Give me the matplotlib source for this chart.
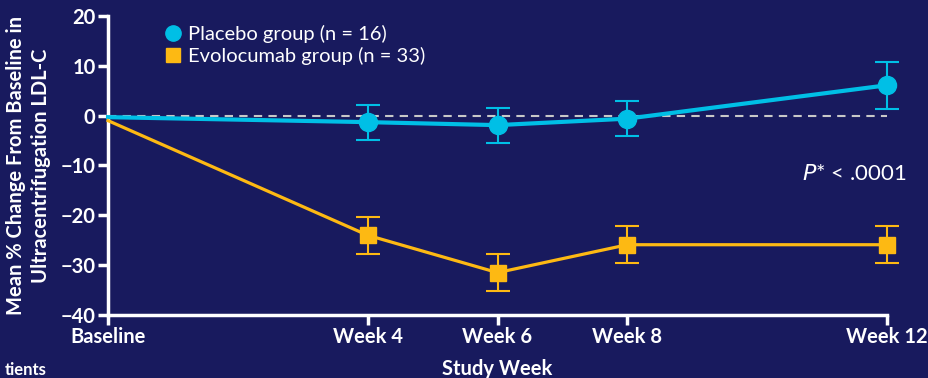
import matplotlib.pyplot as plt

# Data
weeks = [0, 4, 6, 8, 12]
week_labels = ["Baseline", "Week 4", "Week 6", "Week 8", "Week 12"]
placebo_mean = [-0.3, -1.3, -1.9, -0.6, 6.1]
placebo_err = [0, 3.5, 3.5, 3.5, 4.7]
evolo_mean = [-1.0, -24.0, -31.5, -25.9, -25.9]
evolo_err = [0, 3.7, 3.7, 3.7, 3.7]
y_ticks = [20, 10, 0, -10, -20, -30, -40]

BG = "#181a5e"
BLUE = "#00bfe6"
GOLD = "#fdb913"

plt.rcParams['font.family'] = ['Lato', 'DejaVu Sans']

fig = plt.figure(figsize=(9.29, 3.78), dpi=100, facecolor=BG)
ax = fig.add_axes([0.1163, 0.1667, 0.8385, 0.791], facecolor=BG)

# dashed zero reference line
ax.plot([0, 12], [0, 0], ls=(0, (4, 3)), color="#c8c8c8", lw=1.5, zorder=1)

# lines
ax.plot(weeks, placebo_mean, color=BLUE, lw=3, zorder=3, clip_on=False)
ax.plot(weeks, evolo_mean, color=GOLD, lw=2.3, zorder=3, clip_on=False)

# error bars + markers (baseline has no marker)
for mean, err, fmt, col, ms in [(placebo_mean, placebo_err, "o", BLUE, 13),
                                (evolo_mean, evolo_err, "s", GOLD, 12)]:
    eb = ax.errorbar(weeks[1:], mean[1:], yerr=err[1:], fmt=fmt, color=col,
                     ms=ms, capsize=8.5, elinewidth=1.5, capthick=1.5, zorder=4)
    for art in eb.get_children():
        art.set_clip_on(False)

# legend proxies
h1, = ax.plot([], [], "o", color=BLUE, ms=11)
h2, = ax.plot([], [], "s", color=GOLD, ms=10)
leg = ax.legend([h1, h2], ["Placebo group (n = 16)", "Evolocumab group (n = 33)"],
                loc="upper left", bbox_to_anchor=(0.048, 1.03),
                frameon=False, fontsize=14.5, handletextpad=0.3, labelspacing=0.2,
                handlelength=0.9)
for t in leg.get_texts():
    t.set_color("white")

ax.set_xlim(0, 12)
ax.set_ylim(-40, 20)
ax.set_xticks(weeks)
ax.set_xticklabels(week_labels)
ax.set_yticks(y_ticks)

for side in ["top", "right"]:
    ax.spines[side].set_visible(False)
for side in ["left", "bottom"]:
    ax.spines[side].set_color("white")
    ax.spines[side].set_linewidth(2.5)

ax.tick_params(axis="y", colors="white", length=7, width=2.5, labelsize=14.5, pad=2)
ax.tick_params(axis="x", colors="white", length=7, width=2.5, labelsize=14.5, pad=2)
for lbl in ax.get_xticklabels() + ax.get_yticklabels():
    lbl.set_fontweight("bold")

ax.set_ylabel("Mean % Change From Baseline in\nUltracentrifugation LDL-C", color="white",
              fontsize=14.5, fontweight="bold", labelpad=7, linespacing=1.3)
ax.set_xlabel("Study Week", color="white", fontsize=14.5, fontweight="bold", labelpad=8)

ax.text(0.958, 0.47, r"$\mathit{P}$* < .0001", transform=ax.transAxes, ha="center",
        va="center", color="white", fontsize=16)

# footnote fragment visible at bottom-left edge
fig.text(47 / 929, 8 / 378, "tients", ha="right", va="center", color="white",
         fontsize=12, fontweight="bold")

fig.savefig("out.png", dpi=100, facecolor=BG)
